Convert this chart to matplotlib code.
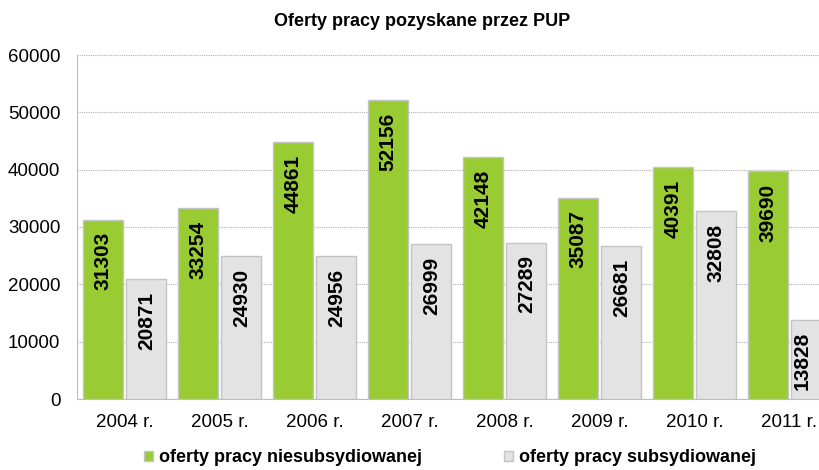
import numpy as np
import matplotlib.pyplot as plt

plt.rcParams['font.family'] = ['Liberation Sans', 'DejaVu Sans']

# Data
years = ['2004 r.', '2005 r.', '2006 r.', '2007 r.', '2008 r.', '2009 r.', '2010 r.', '2011 r.']
niesubsydiowane = [31303, 33254, 44861, 52156, 42148, 35087, 40391, 39690]
subsydiowane = [20871, 24930, 24956, 26999, 27289, 26681, 32808, 13828]
yticks = [0, 10000, 20000, 30000, 40000, 50000, 60000]

green = '#99cc33'
grey = '#e3e3e3'
edge = '#c4c4c4'

fig = plt.figure(figsize=(8.19, 4.70), dpi=100)
# the original chart is cut off on the right, so the axes run past the figure edge
ax = fig.add_axes([77 / 819, 1 - 399 / 470, 760 / 819, 344 / 470])

x = np.arange(len(years))
w = 0.42
b1 = ax.bar(x - 0.23, niesubsydiowane, w, color=green, edgecolor=edge, linewidth=1,
            label='oferty pracy niesubsydiowanej', zorder=3)
b2 = ax.bar(x + 0.23, subsydiowane, w, color=grey, edgecolor=edge, linewidth=1,
            label='oferty pracy subsydiowanej', zorder=3)

# value labels inside the top of each bar
for bars in (b1, b2):
    for r in bars:
        dx = 0
        # last label is pushed left so it stays inside the picture, like in the original
        if bars is b2 and r is bars[-1]:
            dx = -7
        ax.annotate(f'{int(r.get_height())}', (r.get_x() + r.get_width() / 2, r.get_height()),
                    xytext=(dx, -9), textcoords='offset points', rotation=90,
                    ha='center', va='top', fontsize=15, fontweight='bold', zorder=4)

ax.set_xlim(-0.5, len(years) - 0.5)
ax.set_ylim(0, 60000)
ax.set_yticks(yticks)
ax.set_xticks(x)
ax.set_xticklabels(years)
ax.tick_params(axis='both', length=0, labelsize=13.5)
ax.tick_params(axis='x', pad=11)
ax.tick_params(axis='y', pad=12)
ax.yaxis.grid(True, linestyle=(0, (1, 1)), color='#b0b0b0', linewidth=0.8, zorder=0)
for s in ['top', 'right']:
    ax.spines[s].set_visible(False)
for s in ['left', 'bottom']:
    ax.spines[s].set_color('#bdbdbd')

fig.text(422 / 819, 1 - 21 / 470, 'Oferty pracy pozyskane przez PUP', ha='center', va='center',
         fontsize=13, fontweight='bold')

fig.legend(handles=[b1, b2], loc='center', bbox_to_anchor=(450 / 819, 1 - 458 / 470), ncol=2,
           frameon=False, columnspacing=4.5, handlelength=0.5, handleheight=0.5, handletextpad=0.35,
           prop={'size': 13, 'weight': 'bold'})

fig.savefig('out.png', dpi=100)
